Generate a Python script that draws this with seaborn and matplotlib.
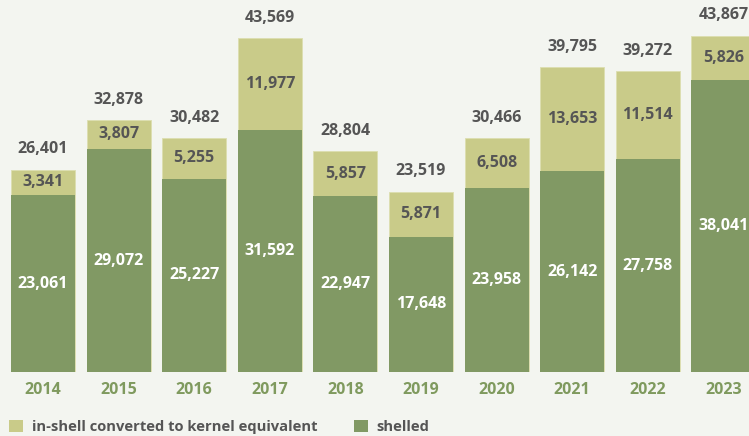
import matplotlib
matplotlib.use("Agg")
import matplotlib.pyplot as plt
import seaborn as sns
import pandas as pd
from matplotlib.patches import Patch

years = ["2014", "2015", "2016", "2017", "2018", "2019", "2020", "2021", "2022", "2023"]
shelled = [23061, 29072, 25227, 31592, 22947, 17648, 23958, 26142, 27758, 38041]
inshell = [3341, 3807, 5255, 11977, 5857, 5871, 6508, 13653, 11514, 5826]
totals = [26401, 32878, 30482, 43569, 28804, 23519, 30466, 39795, 39272, 43867]

BG = "#f3f5f0"
LIGHT = "#c9cb89"
DARK = "#819964"
GREY = "#555555"
GREENTXT = "#7f9a5e"

sns.set_theme(style="white")
plt.rcParams["font.family"] = ["Open Sans", "DejaVu Sans"]

df = pd.DataFrame({"year": years, "shelled": shelled, "inshell": inshell, "total": totals})

fig = plt.figure(figsize=(7.49, 4.36), dpi=100, facecolor=BG)
ax = fig.add_axes([0, 64 / 436, 1, 372 / 436])
ax.set_facecolor(BG)

W = 0.847
sns.barplot(data=df, x="year", y="total", color=LIGHT, width=W, saturation=1,
            ax=ax, edgecolor="#dcdeb0", linewidth=0.6)
sns.barplot(data=df, x="year", y="shelled", color=DARK, width=W, saturation=1,
            ax=ax, linewidth=0)

ax.set_xlim(-0.569, 9.339)
ax.set_ylim(0, 48500)
for s in ax.spines.values():
    s.set_visible(False)
ax.set_yticks([])
ax.set_xlabel("")
ax.set_ylabel("")
ax.tick_params(axis="x", length=0, pad=7)
for lab in ax.get_xticklabels():
    lab.set_color(GREENTXT)
    lab.set_fontweight("bold")
    lab.set_fontsize(11.5)

FS = 11.5
for i in range(len(years)):
    ax.text(i, shelled[i] / 2, f"{shelled[i]:,}", ha="center", va="center",
            color="white", fontsize=FS, fontweight="bold")
    ax.text(i, shelled[i] + inshell[i] / 2, f"{inshell[i]:,}", ha="center", va="center",
            color=GREY, fontsize=FS, fontweight="bold")
    ax.annotate(f"{totals[i]:,}", (i, totals[i]), xytext=(0, 14.5), textcoords="offset points",
                ha="center", va="center", color=GREY, fontsize=FS, fontweight="bold")

handles = [Patch(facecolor=LIGHT, edgecolor="none"), Patch(facecolor=DARK, edgecolor="none")]
leg = fig.legend(handles, ["in-shell converted to kernel equivalent", "shelled"],
                 loc="center left", bbox_to_anchor=(0.0, 9 / 436), ncol=2, frameon=False,
                 handlelength=0.95, handleheight=0.95, handletextpad=0.6, columnspacing=2.5,
                 borderaxespad=0.2, fontsize=10.6)
for t in leg.get_texts():
    t.set_color(GREY)
    t.set_fontweight("bold")

fig.savefig("out.png", dpi=100, facecolor=BG)
